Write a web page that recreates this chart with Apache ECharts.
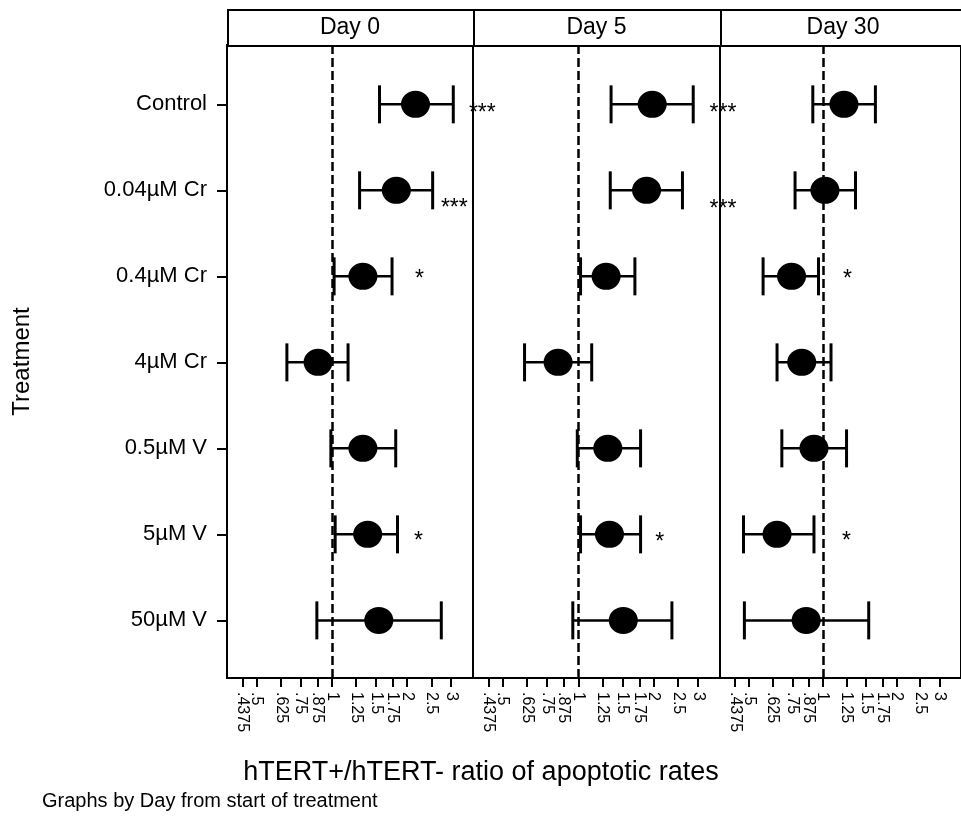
<!DOCTYPE html>
<html>
<head>
<meta charset="utf-8">
<script src="https://cdn.jsdelivr.net/npm/echarts@6/dist/echarts.min.js"></script>
<style>
html,body{margin:0;padding:0;background:#fff;}
#chart{width:961px;height:822px;}
</style>
</head>
<body>
<div id="chart"></div>
<script>
// ---------------- data ----------------
const days = ['Day 0', 'Day 5', 'Day 30'];
const treatments = ['Control', '0.04µM Cr', '0.4µM Cr', '4µM Cr', '0.5µM V', '5µM V', '50µM V'];

// ratio estimates and 95% CI (hTERT+/hTERT- ratio of apoptotic rates)
const day0Est  = [2.16, 1.81, 1.33, 0.88, 1.33, 1.39, 1.54];
const day0Low  = [1.55, 1.29, 1.02, 0.66, 0.99, 1.03, 0.87];
const day0High = [3.06, 2.53, 1.74, 1.16, 1.80, 1.83, 2.74];

const day5Est  = [1.97, 1.87, 1.29, 0.83, 1.31, 1.33, 1.51];
const day5Low  = [1.35, 1.34, 1.02, 0.61, 0.99, 1.02, 0.95];
const day5High = [2.87, 2.60, 1.68, 1.13, 1.77, 1.77, 2.36];

const day30Est  = [1.22, 1.02, 0.745, 0.82, 0.92, 0.65, 0.855];
const day30Low  = [0.91, 0.77, 0.57, 0.65, 0.68, 0.474, 0.478];
const day30High = [1.64, 1.36, 0.96, 1.08, 1.25, 0.92, 1.54];

// significance annotations
const starDay  = [0, 0, 0, 0, 1, 1, 1, 2, 2];
const starRow  = [0.035, 1.14, 1.965, 5.02, 0.035, 1.15, 5.03, 1.965, 5.02];
const starX    = [4.00, 3.09, 2.24, 2.22, 3.77, 3.77, 2.11, 1.26, 1.25];
const starText = ['***', '***', '*', '*', '***', '***', '*', '*', '*'];

// x axis ticks (ratio scale, drawn on a logarithmic axis)
const xTickValues = [0.4375, 0.5, 0.625, 0.75, 0.875, 1, 1.25, 1.5, 1.75, 2, 2.5, 3];
const xTickLabels = ['.4375', '.5', '.625', '.75', '.875', '1', '1.25', '1.5', '1.75', '2', '2.5', '3'];
const xMin = 0.38, xMax = 3.67;

const xTitle = 'hTERT+/hTERT- ratio of apoptotic rates';
const yTitle = 'Treatment';
const note = 'Graphs by Day from start of treatment';

// ---------------- build ----------------
// the x axis is logarithmic: values are placed on a natural-log value axis
const L = Math.log;
const est = [day0Est, day5Est, day30Est];
const low = [day0Low, day5Low, day30Low];
const high = [day0High, day5High, day30High];
const xTickLog = xTickValues.map(L);
// the first tick sits very close to the next one; it is drawn by a twin axis
// so that the library's overlap handling keeps every label
const tickSetA = xTickLog.slice(1);
const tickSetB = xTickLog.slice(0, 1);
const fmt = v => {
  const k = xTickLog.findIndex(t => Math.abs(t - v) < 1e-6);
  return k >= 0 ? xTickLabels[k] : '';
};

const FONT = 'Liberation Sans, Arial, Helvetica, sans-serif';
const panelLeft = [227, 473, 720];
const panelWidth = [246, 247, 246];
const gridTop = 45, gridBottom = 144;

const chart = echarts.init(document.getElementById('chart'));

const grids = [], xAxes = [], yAxes = [], series = [], graphics = [];

function makeX(i, ticks, showLine) {
  return {
    gridIndex: i, type: 'value', position: 'bottom', offset: 0, min: L(xMin), max: L(xMax),
    axisLine: {show: showLine, onZero: false, lineStyle: {color: '#000', width: 2}},
    axisTick: {show: true, length: 9, lineStyle: {color: '#000', width: 2}, customValues: ticks},
    axisLabel: {
      show: true, rotate: -90, margin: 14, color: '#000', fontFamily: FONT, fontSize: 16,
      lineHeight: 11, hideOverlap: false, showMinLabel: true, showMaxLabel: true,
      customValues: ticks, formatter: fmt
    },
    splitLine: {show: false}, minorTick: {show: false}
  };
}

days.forEach((d, i) => {
  grids.push({
    left: panelLeft[i], top: gridTop, width: panelWidth[i], bottom: gridBottom,
    show: true, borderColor: '#000', borderWidth: 2, backgroundColor: '#fff'
  });
  xAxes[i] = makeX(i, tickSetA, true);
  xAxes[i + 3] = makeX(i, tickSetB, false);
  yAxes.push({
    gridIndex: i, type: 'value', inverse: true, min: -0.69, max: 6.67,
    show: i === 0,
    name: i === 0 ? yTitle : '',
    nameLocation: 'middle', nameGap: 193,
    nameTextStyle: {color: '#000', fontFamily: FONT, fontSize: 24},
    axisLine: {show: true, onZero: false, lineStyle: {color: '#000', width: 2}},
    axisTick: {show: true, length: 10, lineStyle: {color: '#000', width: 2}, customValues: [0,1,2,3,4,5,6]},
    axisLabel: {
      show: true, margin: 20, color: '#000', fontFamily: FONT, fontSize: 22,
      showMinLabel: true, showMaxLabel: true,
      customValues: [0,1,2,3,4,5,6],
      formatter: v => treatments[Math.round(v)]
    },
    splitLine: {show: false}
  });

  // error bars
  series.push({
    type: 'custom', xAxisIndex: i, yAxisIndex: i, z: 3,
    data: treatments.map((t, r) => [L(low[i][r]), L(high[i][r]), r]),
    encode: {x: [0, 1], y: 2},
    renderItem: (params, api) => {
      const a = api.coord([api.value(0), api.value(2)]);
      const b = api.coord([api.value(1), api.value(2)]);
      const h = 19;
      const st = {stroke: '#000', lineWidth: 2.5};
      const cs = {stroke: '#000', lineWidth: 3};
      return {type: 'group', children: [
        {type: 'line', shape: {x1: a[0], y1: a[1], x2: b[0], y2: b[1]}, style: st},
        {type: 'line', shape: {x1: a[0], y1: a[1] - h, x2: a[0], y2: a[1] + h}, style: cs},
        {type: 'line', shape: {x1: b[0], y1: b[1] - h, x2: b[0], y2: b[1] + h}, style: cs}
      ]};
    },
    silent: true
  });

  // point estimates + reference line at ratio 1
  series.push({
    type: 'scatter', xAxisIndex: i, yAxisIndex: i, z: 4,
    symbol: 'circle', symbolSize: [29, 27],
    itemStyle: {color: '#000', opacity: 1},
    data: treatments.map((t, r) => [L(est[i][r]), r]),
    silent: true,
    markLine: {
      silent: true, symbol: 'none', label: {show: false},
      lineStyle: {color: '#000', width: 2.5, type: [9, 4]},
      data: [{xAxis: L(1)}],
      animation: false
    }
  });

  // significance stars
  const sd = [];
  starDay.forEach((dd, k) => { if (dd === i) sd.push([L(starX[k]), starRow[k], starText[k]]); });
  series.push({
    type: 'custom', xAxisIndex: i, yAxisIndex: i, z: 5, clip: false,
    data: sd,
    encode: {x: 0, y: 1},
    renderItem: (params, api) => {
      const p = api.coord([api.value(0), api.value(1)]);
      return {type: 'text', x: p[0], y: p[1] + 6, style: {
        text: sd[params.dataIndex][2], fill: '#000', fontFamily: FONT, fontSize: 23,
        align: 'center', verticalAlign: 'middle'
      }};
    },
    silent: true
  });

  // panel header box
  graphics.push({
    type: 'rect', left: panelLeft[i], top: 9, z: 10,
    shape: {width: panelWidth[i], height: 36},
    style: {fill: '#fff', stroke: '#000', lineWidth: 2}
  });
  graphics.push({
    type: 'text', x: panelLeft[i] + panelWidth[i] / 2, y: 28, z: 11,
    style: {text: d, fill: '#000', font: '23px ' + FONT, align: 'center', verticalAlign: 'middle'}
  });
});

graphics.push({
  type: 'text', x: 481, y: 773, z: 11,
  style: {text: xTitle, fill: '#000', font: '27px ' + FONT, align: 'center', verticalAlign: 'middle'}
});
graphics.push({
  type: 'text', x: 42, y: 801, z: 11,
  style: {text: note, fill: '#000', font: '20px ' + FONT, align: 'left', verticalAlign: 'middle'}
});

chart.setOption({
  animation: false,
  backgroundColor: '#fff',
  textStyle: {fontFamily: FONT, color: '#000'},
  grid: grids,
  xAxis: xAxes,
  yAxis: yAxes,
  series: series,
  graphic: {elements: graphics}
});
</script>
</body>
</html>
